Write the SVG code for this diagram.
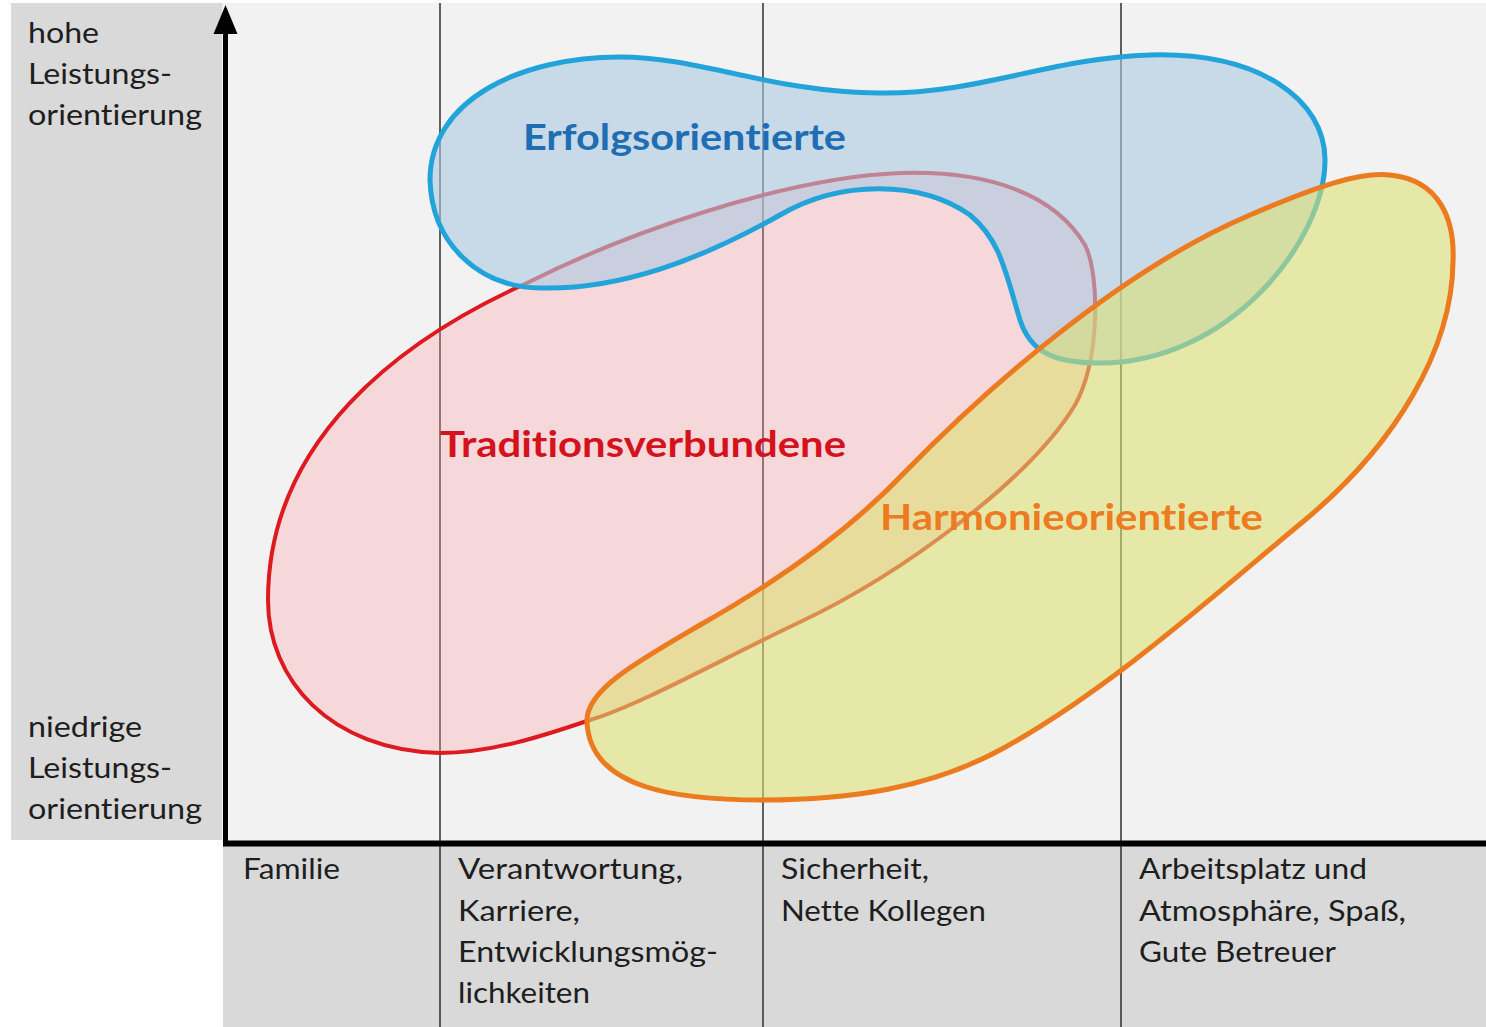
<svg xmlns="http://www.w3.org/2000/svg" width="1486" height="1027" viewBox="0 0 1486 1027">
  <style>
    text { font-variant-ligatures: none; font-feature-settings: "liga" 0, "clig" 0; }
    .lbl { font-family: Lato, "Open Sans", "Liberation Sans", sans-serif; font-size: 28.5px; fill: #1e1e1e; }
    .grp { font-family: Lato, "Open Sans", "Liberation Sans", sans-serif; font-size: 36px; font-weight: bold; }
    .grid { stroke: #3a3a3a; stroke-width: 1.6; }
    .axis { stroke: #000; fill: none; }
  </style>

  <!-- panels -->
  <rect x="0" y="0" width="1486" height="1027" fill="#ffffff"/>
  <rect x="11" y="3" width="211" height="837" fill="#d9d9d9"/>
  <rect x="222" y="3" width="1264" height="838" fill="#f2f2f2"/>
  <rect x="223" y="846" width="1263" height="181" fill="#d9d9d9"/>

  <!-- column separators -->
  <g id="grid">
    <line class="grid" x1="440" y1="3" x2="440" y2="1027"/>
    <line class="grid" x1="763" y1="3" x2="763" y2="1027"/>
    <line class="grid" x1="1121" y1="3" x2="1121" y2="1027"/>
  </g>

  <!-- groups -->
  <g id="traditionsverbundene">
    <path d="M 527,283 C 620,236 780,178 900,173 C 990,170 1055,195 1085,245 C 1100,275 1100,360 1075,405 C 1030,480 900,575 800,622 C 720,660 640,705 590,720 C 540,737 490,753 440,753 C 330,750 268,680 268,600 C 268,440 400,340 527,283 Z"
          fill="#ff9fa8" fill-opacity="0.32" stroke="#dc1a1f" stroke-width="4"/>
    <text class="grp" x="440" y="457" fill="#d3121d" textLength="406" lengthAdjust="spacingAndGlyphs">Traditionsverbundene</text>
  </g>

  <g id="erfolgsorientierte">
    <path d="M 430,180 C 430,100 520,57 620,57 C 700,57 770,92 880,93 C 980,94 1050,58 1150,55 C 1260,52 1325,100 1325,160 C 1325,240 1230,363 1100,363 C 1050,363 1030,350 1020,320 C 1005,270 1000,240 970,215 C 920,180 840,180 780,215 C 700,260 620,290 540,288 C 480,287 432,245 430,180 Z"
          fill="#acc9e1" fill-opacity="0.6" stroke="#22a4da" stroke-width="5"/>
    <text class="grp" x="523" y="150" fill="#1f6db3" textLength="323" lengthAdjust="spacingAndGlyphs">Erfolgsorientierte</text>
  </g>

  <g id="harmonieorientierte">
    <path d="M 587,722 C 585,690 640,660 700,625 C 780,580 850,530 905,472 C 985,390 1120,270 1250,215 C 1320,185 1360,172 1390,175 C 1440,180 1455,220 1453,262 C 1452,350 1395,445 1305,520 C 1220,590 1110,690 1000,750 C 930,788 850,800 763,800 C 680,800 590,790 587,722 Z"
          fill="#dde070" fill-opacity="0.58" stroke="#ec7a1f" stroke-width="5"/>
    <text class="grp" x="880" y="530" fill="#ec7b22" textLength="383" lengthAdjust="spacingAndGlyphs">Harmonieorientierte</text>
  </g>

  <!-- axes -->
  <g id="axes">
    <line class="axis" x1="225.5" y1="28" x2="225.5" y2="846" stroke-width="5"/>
    <polygon points="225.5,5 237.5,34 213.5,34" fill="#000"/>
    <line class="axis" x1="223" y1="843.5" x2="1486" y2="843.5" stroke-width="6"/>
  </g>

  <!-- vertical axis labels -->
  <g id="y-high">
    <text class="lbl" x="28" y="43" textLength="71" lengthAdjust="spacingAndGlyphs">hohe</text>
    <text class="lbl" x="28" y="84" textLength="144" lengthAdjust="spacingAndGlyphs">Leistungs-</text>
    <text class="lbl" x="28" y="125" textLength="174" lengthAdjust="spacingAndGlyphs">orientierung</text>
  </g>
  <g id="y-low">
    <text class="lbl" x="28" y="737" textLength="114" lengthAdjust="spacingAndGlyphs">niedrige</text>
    <text class="lbl" x="28" y="778" textLength="144" lengthAdjust="spacingAndGlyphs">Leistungs-</text>
    <text class="lbl" x="28" y="819" textLength="174" lengthAdjust="spacingAndGlyphs">orientierung</text>
  </g>

  <!-- horizontal axis categories -->
  <g id="col-familie">
    <text class="lbl" x="243" y="879" textLength="97" lengthAdjust="spacingAndGlyphs">Familie</text>
  </g>
  <g id="col-karriere">
    <text class="lbl" x="458" y="879" textLength="225" lengthAdjust="spacingAndGlyphs">Verantwortung,</text>
    <text class="lbl" x="458" y="921" textLength="122" lengthAdjust="spacingAndGlyphs">Karriere,</text>
    <text class="lbl" x="458" y="962" textLength="260" lengthAdjust="spacingAndGlyphs">Entwicklungsmög-</text>
    <text class="lbl" x="458" y="1003" textLength="132" lengthAdjust="spacingAndGlyphs">lichkeiten</text>
  </g>
  <g id="col-sicherheit">
    <text class="lbl" x="781" y="879" textLength="148" lengthAdjust="spacingAndGlyphs">Sicherheit,</text>
    <text class="lbl" x="781" y="921" textLength="205" lengthAdjust="spacingAndGlyphs">Nette Kollegen</text>
  </g>
  <g id="col-arbeitsplatz">
    <text class="lbl" x="1139" y="879" textLength="228" lengthAdjust="spacingAndGlyphs">Arbeitsplatz und</text>
    <text class="lbl" x="1139" y="921" textLength="267" lengthAdjust="spacingAndGlyphs">Atmosphäre, Spaß,</text>
    <text class="lbl" x="1139" y="962" textLength="197" lengthAdjust="spacingAndGlyphs">Gute Betreuer</text>
  </g>
</svg>
